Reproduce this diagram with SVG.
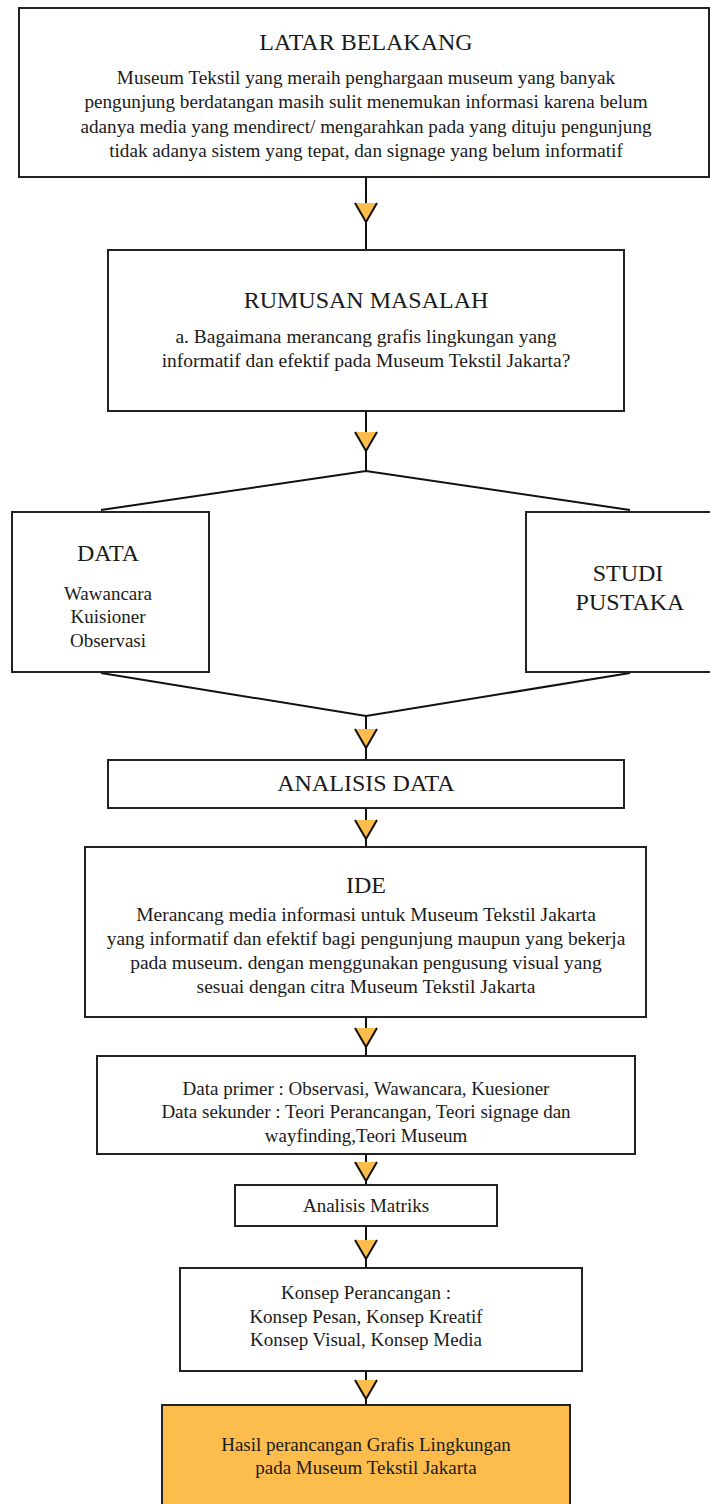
<svg xmlns="http://www.w3.org/2000/svg" width="710" height="1504" viewBox="0 0 710 1504">
<defs>
<style>
.box{fill:#fff;stroke:#222;stroke-width:2}
.hasil{fill:#FCBD4C;stroke:#222;stroke-width:2}
.t{font-family:"Liberation Serif","Times New Roman",serif;fill:#1a1a1a;text-anchor:middle}
.h{font-size:24px}
.b{font-size:19.5px}
.l{font-size:19.2px}
.s{font-size:19px}
.ln{stroke:#111;stroke-width:2;fill:none}
.tri{fill:#FCBD4C}
.v{fill:none;stroke:#111;stroke-width:2;stroke-linejoin:miter}
</style>
<g id="ah">
<polygon class="tri" points="-11,0 11,0 0,19"/>
<polyline class="v" points="-11,0 0,19 11,0"/>
</g>
</defs>
<rect width="710" height="1504" fill="#fff"/>

<g id="connectors">
<line class="ln" x1="366" y1="177" x2="366" y2="250"/>
<line class="ln" x1="366" y1="411" x2="366" y2="471"/>
<polyline class="ln" points="101,510 366,471 630,510"/>
<polyline class="ln" points="101,673 366,716 630,673"/>
<line class="ln" x1="366" y1="716" x2="366" y2="760"/>
<line class="ln" x1="366" y1="808" x2="366" y2="847"/>
<line class="ln" x1="366" y1="1017" x2="366" y2="1056"/>
<line class="ln" x1="366" y1="1154" x2="366" y2="1185"/>
<line class="ln" x1="366" y1="1226" x2="366" y2="1268"/>
<line class="ln" x1="366" y1="1371" x2="366" y2="1405"/>
<use href="#ah" x="366" y="203"/>
<use href="#ah" x="366" y="432"/>
<use href="#ah" x="366" y="729"/>
<use href="#ah" x="366" y="820"/>
<use href="#ah" x="366" y="1028"/>
<use href="#ah" x="366" y="1162"/>
<use href="#ah" x="366" y="1240"/>
<use href="#ah" x="366" y="1380"/>
</g>

<g id="latar">
<rect class="box" x="19" y="8" width="690" height="169"/>
<text class="t h" x="366" y="50">LATAR BELAKANG</text>
<text class="t l" x="366" y="84">Museum Tekstil yang meraih penghargaan museum yang banyak</text>
<text class="t l" x="366" y="108">pengunjung berdatangan masih sulit menemukan informasi karena belum</text>
<text class="t l" x="366" y="133">adanya media yang mendirect/ mengarahkan pada yang  dituju pengunjung</text>
<text class="t l" x="366" y="157">tidak adanya sistem yang tepat, dan signage yang belum informatif</text>
</g>

<g id="rumusan">
<rect class="box" x="108" y="250" width="516" height="161"/>
<text class="t h" x="366" y="308">RUMUSAN MASALAH</text>
<text class="t b" x="366" y="343">a. Bagaimana merancang grafis lingkungan yang</text>
<text class="t b" x="366" y="367">informatif dan efektif pada Museum Tekstil Jakarta?</text>
</g>

<g id="data">
<rect class="box" x="12" y="512" width="197" height="160"/>
<text class="t h" x="108" y="561">DATA</text>
<text class="t s" x="108" y="600">Wawancara</text>
<text class="t s" x="108" y="623">Kuisioner</text>
<text class="t s" x="108" y="647">Observasi</text>
</g>

<g id="studi">
<rect class="box" x="526" y="512" width="202" height="160"/>
<text class="t h" x="628" y="581">STUDI</text>
<text class="t h" x="630" y="610">PUSTAKA</text>
</g>

<g id="analisis">
<rect class="box" x="108" y="760" width="516" height="48"/>
<text class="t h" x="366" y="791">ANALISIS DATA</text>
</g>

<g id="ide">
<rect class="box" x="85" y="847" width="561" height="170"/>
<text class="t h" x="366" y="893">IDE</text>
<text class="t b" x="366" y="921">Merancang media informasi untuk Museum Tekstil Jakarta</text>
<text class="t b" x="366" y="945">yang informatif dan efektif bagi pengunjung maupun yang bekerja</text>
<text class="t b" x="366" y="969">pada museum. dengan menggunakan pengusung visual yang</text>
<text class="t b" x="366" y="993">sesuai dengan citra Museum Tekstil Jakarta</text>
</g>

<g id="datasumber">
<rect class="box" x="97" y="1056" width="538" height="98"/>
<text class="t s" x="366" y="1095">Data primer : Observasi, Wawancara, Kuesioner</text>
<text class="t s" x="366" y="1118">Data sekunder : Teori Perancangan, Teori signage dan</text>
<text class="t s" x="366" y="1142">wayfinding,Teori Museum</text>
</g>

<g id="matriks">
<rect class="box" x="235" y="1185" width="262" height="41"/>
<text class="t s" x="366" y="1212">Analisis Matriks</text>
</g>

<g id="konsep">
<rect class="box" x="180" y="1268" width="402" height="103"/>
<text class="t s" x="366" y="1299">Konsep Perancangan :</text>
<text class="t s" x="366" y="1323">Konsep Pesan, Konsep Kreatif</text>
<text class="t s" x="366" y="1346">Konsep Visual, Konsep Media</text>
</g>

<g id="hasil">
<rect class="hasil" x="162" y="1405" width="408" height="110"/>
<text class="t s" x="366" y="1451">Hasil perancangan Grafis Lingkungan</text>
<text class="t s" x="366" y="1474">pada Museum Tekstil Jakarta</text>
</g>
</svg>
